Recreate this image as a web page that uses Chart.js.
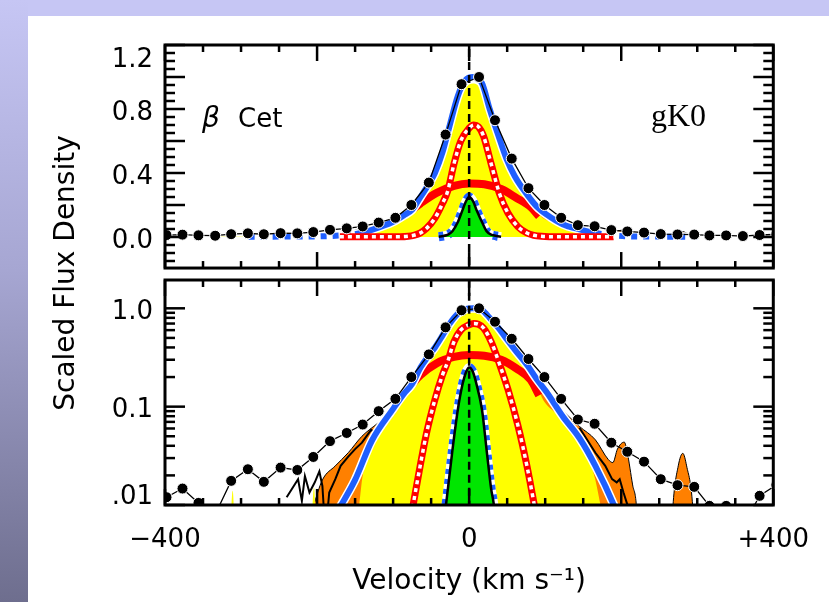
<!DOCTYPE html>
<html>
<head>
<meta charset="utf-8">
<script src="https://cdn.jsdelivr.net/npm/chart.js@4.4.1/dist/chart.umd.min.js"></script>
<style>
  html, body { margin: 0; padding: 0; background: #fff; }
  #page { position: relative; width: 829px; height: 602px; overflow: hidden; background: #fff; }
  #bandTop { position: absolute; left: 0; top: 0; width: 829px; height: 16px; background: #c6c6f4; }
  #bandLeft { position: absolute; left: 0; top: 0; width: 28px; height: 602px;
              background: linear-gradient(to bottom, #c6c6f4 0%, #a6a6d2 45%, #6e6e8e 100%); }
  #plot { position: absolute; left: 0; top: 0; }
</style>
</head>
<body>
<div id="page">
  <div id="bandTop"></div>
  <div id="bandLeft"></div>
  <canvas id="plot" width="829" height="602"></canvas>
</div>
<script>
// binned observed profile (black dots)
const dotVel = [-398, -377, -356, -334, -313, -291, -270, -248, -226, -205, -183, -161, -140, -119, -97, -76, -53, -31, -10, 13,
                34, 56, 78, 99, 121, 143, 165, 187, 208, 230, 252, 274, 296, 316, 338, 360, 382, 404];
const dotFlux = [0.012, 0.0147, 0.0105, 0.008, 0.0176, 0.0231, 0.0172, 0.024, 0.0227, 0.0308, 0.0446, 0.054, 0.0658, 0.09, 0.12, 0.20, 0.34, 0.64, 0.955, 1.0,
                 0.73, 0.49, 0.305, 0.20, 0.12, 0.074, 0.067, 0.043, 0.0348, 0.0276, 0.0183, 0.0159, 0.0153, 0.0098, 0.0098, 0.006, 0.0124, 0.016];

// total model (blue)
const blueVel = [-290, -200, -170, -150, -128, -100, -86, -75, -64, -52, -45, -35, -26, -15, -5, 5, 17, 27, 38, 49, 60, 77, 89, 102, 123, 145, 166, 191, 210, 300];
const blueFlux = [0.002, 0.004, 0.0095, 0.018, 0.045, 0.095, 0.135, 0.17, 0.25, 0.34, 0.40, 0.53, 0.69, 0.88, 0.98, 1.0, 0.96, 0.80, 0.64, 0.49, 0.38, 0.26, 0.19, 0.14, 0.08, 0.048, 0.025, 0.0097, 0.004, 0.002];

// smoothed profile (yellow fill)
const yelVel = [-330, -318, -311, -305, -212, -204, -198, -152, -145, -140, -125, -111, -95, -82, -64, -45, -35, -26, -15, -5,
                5, 17, 27, 38, 49, 60, 77, 89, 98, 115, 136, 148, 160, 166, 173, 180];
const yelFlux = [0.001, 0.001, 0.014, 0.001, 0.001, 0.015, 0.001, 0.005, 0.0097, 0.02, 0.04, 0.062, 0.09, 0.13, 0.22, 0.36, 0.48, 0.63, 0.82, 0.93,
                 0.96, 0.91, 0.75, 0.59, 0.45, 0.34, 0.22, 0.16, 0.115, 0.085, 0.063, 0.043, 0.026, 0.018, 0.0097, 0.005];

// upper envelope (orange fill)
const orVel = [-250, -205, -193, -176, -159, -141, -120, -103, -82, -60, -30, 0, 30, 60, 81, 95, 110, 125, 145, 166,
               183, 189, 195, 204, 208, 215, 220, 226, 262, 268, 275, 281, 286, 294, 300];
const orFlux = [0.001, 0.0097, 0.018, 0.025, 0.034, 0.05, 0.068, 0.087, 0.15, 0.25, 0.55, 0.85, 0.65, 0.3, 0.23, 0.16, 0.115, 0.088, 0.063, 0.046,
                0.029, 0.027, 0.037, 0.0436, 0.034, 0.016, 0.0097, 0.001, 0.001, 0.0097, 0.025, 0.0335, 0.025, 0.0097, 0.001];

// raw wings (black)
const rawVelL = [-240, -225, -220, -216, -210, -203, -197, -193, -189, -184, -176, -169, -159, -150, -141, -129, -116, -107, -95];
const rawFluxL = [0.012, 0.0183, 0.011, 0.0197, 0.0134, 0.017, 0.022, 0.0156, 0.005, 0.0134, 0.0183, 0.025, 0.031, 0.037, 0.043, 0.058, 0.05, 0.068, 0.085];
const rawVelR = [145, 156, 166, 179, 188, 194, 198, 203, 207, 212];
const rawFluxR = [0.061, 0.045, 0.034, 0.025, 0.0183, 0.017, 0.0183, 0.0134, 0.0107, 0.008];

// broad component (red solid)
const redVel = [-78, -64, -43, -20, 0, 20, 42, 62, 81, 92];
const redFlux = [0.16, 0.21, 0.275, 0.32, 0.335, 0.33, 0.30, 0.245, 0.187, 0.13];

// narrow component (red/white dashed)
const rdVel = [-170, -90, -80, -73, -64, -56, -45, -35, -28, -20, -11, 0, 6, 12, 19, 29, 40, 51, 64, 76, 85, 95, 105, 190];
const rdFlux = [0.002, 0.002, 0.005, 0.0107, 0.026, 0.054, 0.118, 0.21, 0.29, 0.456, 0.60, 0.68, 0.70, 0.69, 0.63, 0.456, 0.27, 0.15, 0.065, 0.025, 0.0107, 0.004, 0.002, 0.002];

// instrumental profile (green)
const grVel = [-40, -34, -30, -28, -22, -15, -9, -4, 0, 5, 10, 17, 23, 29, 32, 36, 42];
const grFlux = [0.002, 0.006, 0.0107, 0.0145, 0.036, 0.092, 0.165, 0.225, 0.25, 0.225, 0.165, 0.092, 0.036, 0.0145, 0.0107, 0.006, 0.002];

const zeroVel = 0;

const xTickVals = [-400, 0, 400];
const xTickText = ["\u2212400", "0", "+400"];
const topTickVals = [0, 0.4, 0.8, 1.2];
const topTickText = ["0.0", "0.4", "0.8", "1.2"];
const botTickVals = [0.01, 0.1, 1];
const botTickText = [".01", "0.1", "1.0"];

// panel extents (framed part of each axis)
const topMin = -0.194, topMax = 1.2;
const botMin = 0.01, botMax = 1.94;

Chart.defaults.font.family = "'DejaVu Sans', sans-serif";
Chart.defaults.color = "#000";

const pts = (vs, fs) => vs.map((v, i) => ({ x: v, y: fs[i] }));

function panelSets(yID, isTop) {
  // clip is relative to each stacked y axis box; trims the 12px gap between panels
  const clip = isTop ? { left: 0, right: 0, top: 0, bottom: -6 } : { left: 0, right: 0, top: -6, bottom: 0 };
  const fillTo = isTop ? "origin" : "start";
  const base = { yAxisID: yID, clip: clip, pointRadius: 0, fill: false, cubicInterpolationMode: "monotone" };
  const rawData = pts(rawVelL, rawFluxL).concat([{ x: 120, y: null }], pts(rawVelR, rawFluxR));
  const zeroData = isTop ? [{ x: zeroVel, y: -0.5 }, { x: zeroVel, y: 1.5 }] : [{ x: zeroVel, y: 0.002 }, { x: zeroVel, y: 5 }];
  const flatDash = c => (isTop && c.p0.parsed.y < 0.03 && c.p1.parsed.y < 0.03) ? [6, 6] : undefined;
  return [
    { ...base, order: 20, data: pts(orVel, orFlux), fill: fillTo, backgroundColor: "#ff8000", borderColor: "#000", borderWidth: 1 },
    { ...base, order: 19, data: rawData, borderColor: "#000", borderWidth: 2, cubicInterpolationMode: "default", tension: 0 },
    { ...base, order: 18, data: pts(yelVel, yelFlux), fill: fillTo, backgroundColor: "#ffff00", borderColor: "rgba(0,0,0,0)", borderWidth: 1 },
    { ...base, order: 17, data: pts(redVel, redFlux), borderColor: "#ff0000", borderWidth: 8 },
    { ...base, order: 16, data: pts(blueVel, blueFlux), borderColor: "#fff", borderWidth: 9 },
    { ...base, order: 15, data: pts(blueVel, blueFlux), borderColor: "#1f5fff", borderWidth: 6, segment: { borderDash: flatDash } },
    { ...base, order: 14, data: pts(rdVel, rdFlux), borderColor: "#ff0000", borderWidth: 7 },
    { ...base, order: 13, data: pts(rdVel, rdFlux), borderColor: "#fff", borderWidth: 3.5, borderDash: [4, 4] },
    { ...base, order: 12, data: pts(grVel, grFlux), borderColor: "#fff", borderWidth: 9 },
    { ...base, order: 11, data: pts(grVel, grFlux), borderColor: "#1f5fff", borderWidth: 9, borderDash: [5, 5] },
    { ...base, order: 10, data: pts(grVel, grFlux), fill: fillTo, backgroundColor: "#00e600", borderColor: "#000", borderWidth: 2.5 },
    { ...base, order: 9, data: zeroData, borderColor: "#000", borderWidth: 2.5, borderDash: [8, 5], cubicInterpolationMode: "default" },
    { ...base, order: 8, data: pts(dotVel, dotFlux), borderColor: "#000", borderWidth: 1.3, tension: 0, cubicInterpolationMode: "default",
      pointRadius: 5.5, pointBackgroundColor: "#000", pointBorderColor: "#fff", pointBorderWidth: 1 }
  ];
}

// IDL style frames with inward ticks on all four sides, plus the texts
const frames = {
  id: "frames",
  afterDraw(chart) {
    const { ctx, chartArea: a, scales } = chart;
    const x = scales.x, yT = scales.yTop, yB = scales.yBot;
    const line = (x1, y1, x2, y2) => { ctx.beginPath(); ctx.moveTo(x1, y1); ctx.lineTo(x2, y2); ctx.stroke(); };

    const xTicks = [];
    for (let v = -400; v <= 400; v += 50) xTicks.push({ v: v, major: v % 200 === 0 });
    const topTicks = [];
    for (let k = -3; k <= 24; k++) topTicks.push({ v: k * 0.05, major: k % 4 === 0 });
    const botTicks = [];
    [0.01, 0.1, 1].forEach(d => { for (let m = 1; m <= 9; m++) botTicks.push({ v: m * d, major: m === 1 }); });

    const panels = [
      { s: yT, lo: topMin, hi: topMax, ticks: topTicks },
      { s: yB, lo: botMin, hi: botMax, ticks: botTicks }
    ];
    ctx.save();
    ctx.strokeStyle = "#000";
    panels.forEach(p => {
      const t = p.s.getPixelForValue(p.hi), b = p.s.getPixelForValue(p.lo);
      ctx.lineWidth = 2.5;
      xTicks.forEach(tk => {
        const px = x.getPixelForValue(tk.v), L = tk.major ? 16 : 7;
        line(px, t, px, t + L);
        line(px, b, px, b - L);
      });
      p.ticks.forEach(tk => {
        if (tk.v < p.lo - 1e-9 || tk.v > p.hi + 1e-9) return;
        const py = p.s.getPixelForValue(tk.v), L = tk.major ? 20 : 10;
        line(a.left, py, a.left + L, py);
        line(a.right, py, a.right - L, py);
      });
      ctx.lineWidth = 3;
      ctx.strokeRect(a.left, t, a.right - a.left, b - t);
    });

    ctx.fillStyle = "#000";
    ctx.textBaseline = "alphabetic";
    ctx.textAlign = "left";
    ctx.font = "italic 28px 'DejaVu Sans'";
    ctx.fillText("\u03b2", 202, 127);
    ctx.font = "26px 'DejaVu Sans'";
    ctx.fillText("Cet", 238, 127);
    ctx.font = "32px 'Liberation Serif'";
    ctx.fillText("gK0", 651, 126);

    // shared y title, centred on both panels
    ctx.translate(67, (yT.getPixelForValue(topMax) + yB.getPixelForValue(botMin)) / 2 - 2);
    ctx.rotate(-Math.PI / 2);
    ctx.textAlign = "center";
    ctx.textBaseline = "middle";
    ctx.font = "28px 'DejaVu Sans'";
    ctx.fillText("Scaled Flux Density", 0, 0);
    ctx.restore();
  }
};

const noGrid = { display: false, drawTicks: false, tickLength: 0 };

new Chart(document.getElementById("plot"), {
  type: "line",
  data: { datasets: panelSets("yTop", true).concat(panelSets("yBot", false)) },
  options: {
    responsive: false,
    animation: false,
    events: [],
    layout: { padding: { top: 45, right: 40, left: 0, bottom: 0 } },
    plugins: { legend: { display: false }, tooltip: { enabled: false } },
    scales: {
      x: {
        type: "linear", position: "bottom", min: -400, max: 400,
        grid: noGrid, border: { display: false },
        afterBuildTicks: s => { s.ticks = xTickVals.map(v => ({ value: v })); },
        afterFit: s => { s.height = 97; },
        ticks: { padding: 20, autoSkip: false, maxRotation: 0, font: { size: 26 },
                 callback: (v, i) => xTickText[i] },
        title: { display: true, text: "Velocity (km s\u207b\u00b9)", font: { size: 28 }, padding: { top: 0, bottom: 3 } }
      },
      yBot: {
        type: "logarithmic", position: "left", weight: 0, stack: "panels", stackWeight: 231, min: 0.01, max: 2.233,
        grid: noGrid, border: { display: false },
        afterBuildTicks: s => { s.ticks = botTickVals.map(v => ({ value: v })); },
        afterFit: s => { s.width = 165; },
        ticks: { padding: 12, labelOffset: 4, autoSkip: false, font: { size: 26, lineHeight: 0.9 },
                 callback: (v, i) => (botTickVals[i] === botMin ? [botTickText[i], ""] : botTickText[i]) }
      },
      yTop: {
        type: "linear", position: "left", weight: 1, stack: "panels", stackWeight: 229, min: -0.23125, max: 1.2,
        grid: noGrid, border: { display: false },
        afterBuildTicks: s => { s.ticks = topTickVals.map(v => ({ value: v })); },
        afterFit: s => { s.width = 165; },
        ticks: { padding: 12, labelOffset: 4, autoSkip: false, font: { size: 26, lineHeight: 0.9 },
                 callback: (v, i) => (topTickVals[i] === topMax ? ["", topTickText[i]] : topTickText[i]) }
      }
    }
  },
  plugins: [frames]
});
</script>
</body>
</html>
